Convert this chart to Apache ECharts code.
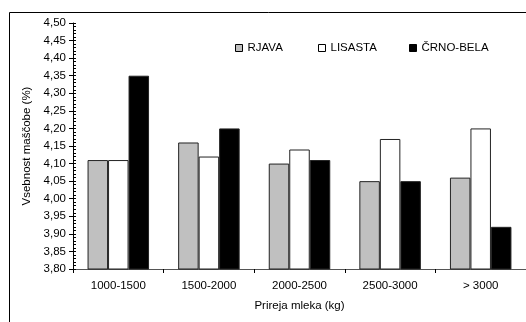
<!DOCTYPE html>
<html>
<head>
<meta charset="utf-8">
<script src="https://cdn.jsdelivr.net/npm/echarts@6/dist/echarts.min.js"></script>
<style>
  html, body { margin: 0; padding: 0; background: #fff; }
  #chart { width: 526px; height: 322px; }
</style>
</head>
<body>
<div id="chart"></div>
<script>
// Milk yield classes (kg) and fat content (%) per breed
const categories = ['1000-1500', '1500-2000', '2000-2500', '2500-3000', '> 3000'];
const seriesNames = ['RJAVA', 'LISASTA', 'ČRNO-BELA'];
const rjava = [4.11, 4.16, 4.10, 4.05, 4.06];
const lisasta = [4.11, 4.12, 4.14, 4.17, 4.20];
const crnoBela = [4.35, 4.20, 4.11, 4.05, 3.92];

const yMin = 3.80;
const yMax = 4.50;
const yStep = 0.05;
const yMinorStep = 0.01;

const FONT = 'Liberation Sans, Arial, sans-serif';
const FS = 11.5;

const chart = echarts.init(document.getElementById('chart'), null, { renderer: 'canvas' });

function barSeries(name, data, fill) {
  return {
    name: name,
    type: 'bar',
    data: data,
    barWidth: 20.5,
    barGap: '0%',
    itemStyle: { color: fill, borderColor: '#222', borderWidth: 1 },
    emphasis: { disabled: true },
    animation: false
  };
}

function legendAt(name, left) {
  return {
    data: [name],
    left: left,
    top: 42,
    icon: 'rect',
    itemWidth: 7,
    itemHeight: 7,
    itemStyle: { borderColor: '#000', borderWidth: 1 },
    textStyle: { fontFamily: FONT, fontSize: FS, color: '#000', padding: [0, 0, 0, 0] },
    selectedMode: false,
    padding: 0
  };
}

chart.setOption({
  backgroundColor: '#fff',
  animation: false,
  graphic: [{
    type: 'rect',
    shape: { x: 9.5, y: 12.5, width: 700, height: 500 },
    style: { fill: 'none', stroke: '#000', lineWidth: 1 },
    silent: true,
    z: -1
  }],
  legend: [
    legendAt(seriesNames[0], 235),
    legendAt(seriesNames[1], 318),
    legendAt(seriesNames[2], 409)
  ],
  grid: { left: 73, top: 23, width: 465, height: 246, containLabel: false },
  xAxis: {
    type: 'category',
    data: categories,
    name: 'Prireja mleka (kg)',
    nameLocation: 'middle',
    nameGap: 31,
    nameTextStyle: { fontFamily: FONT, fontSize: FS, color: '#000' },
    axisLine: { show: true, lineStyle: { color: '#555', width: 1 } },
    axisTick: { show: true, length: 4, inside: false, lineStyle: { color: '#000' } },
    axisLabel: { fontFamily: FONT, fontSize: FS, color: '#000', margin: 11 },
    splitLine: { show: false }
  },
  yAxis: [
    {
      type: 'value',
      min: yMin,
      max: yMax,
      interval: yStep,
      name: 'Vsebnost maščobe (%)',
      nameLocation: 'middle',
      nameGap: 33,
      nameRotate: 90,
      nameTextStyle: { fontFamily: FONT, fontSize: FS, color: '#000' },
      axisLine: { show: true, lineStyle: { color: '#000', width: 1 } },
      axisTick: { show: true, length: 4, inside: false, lineStyle: { color: '#000' } },
      axisLabel: {
        fontFamily: FONT, fontSize: FS, color: '#000', margin: 7,
        formatter: v => v.toFixed(2).replace('.', ',')
      },
      splitLine: { show: false }
    },
    {
      // minor ticks on the inside of the value axis
      type: 'value',
      position: 'left',
      min: yMin,
      max: yMax,
      interval: yMinorStep,
      axisLine: { show: false },
      axisTick: { show: true, length: 3, inside: true, lineStyle: { color: '#000' } },
      axisLabel: { show: false },
      splitLine: { show: false }
    }
  ],
  series: [
    barSeries(seriesNames[0], rjava, '#C0C0C0'),
    barSeries(seriesNames[1], lisasta, '#FFFFFF'),
    barSeries(seriesNames[2], crnoBela, '#000000')
  ]
});
</script>
</body>
</html>
